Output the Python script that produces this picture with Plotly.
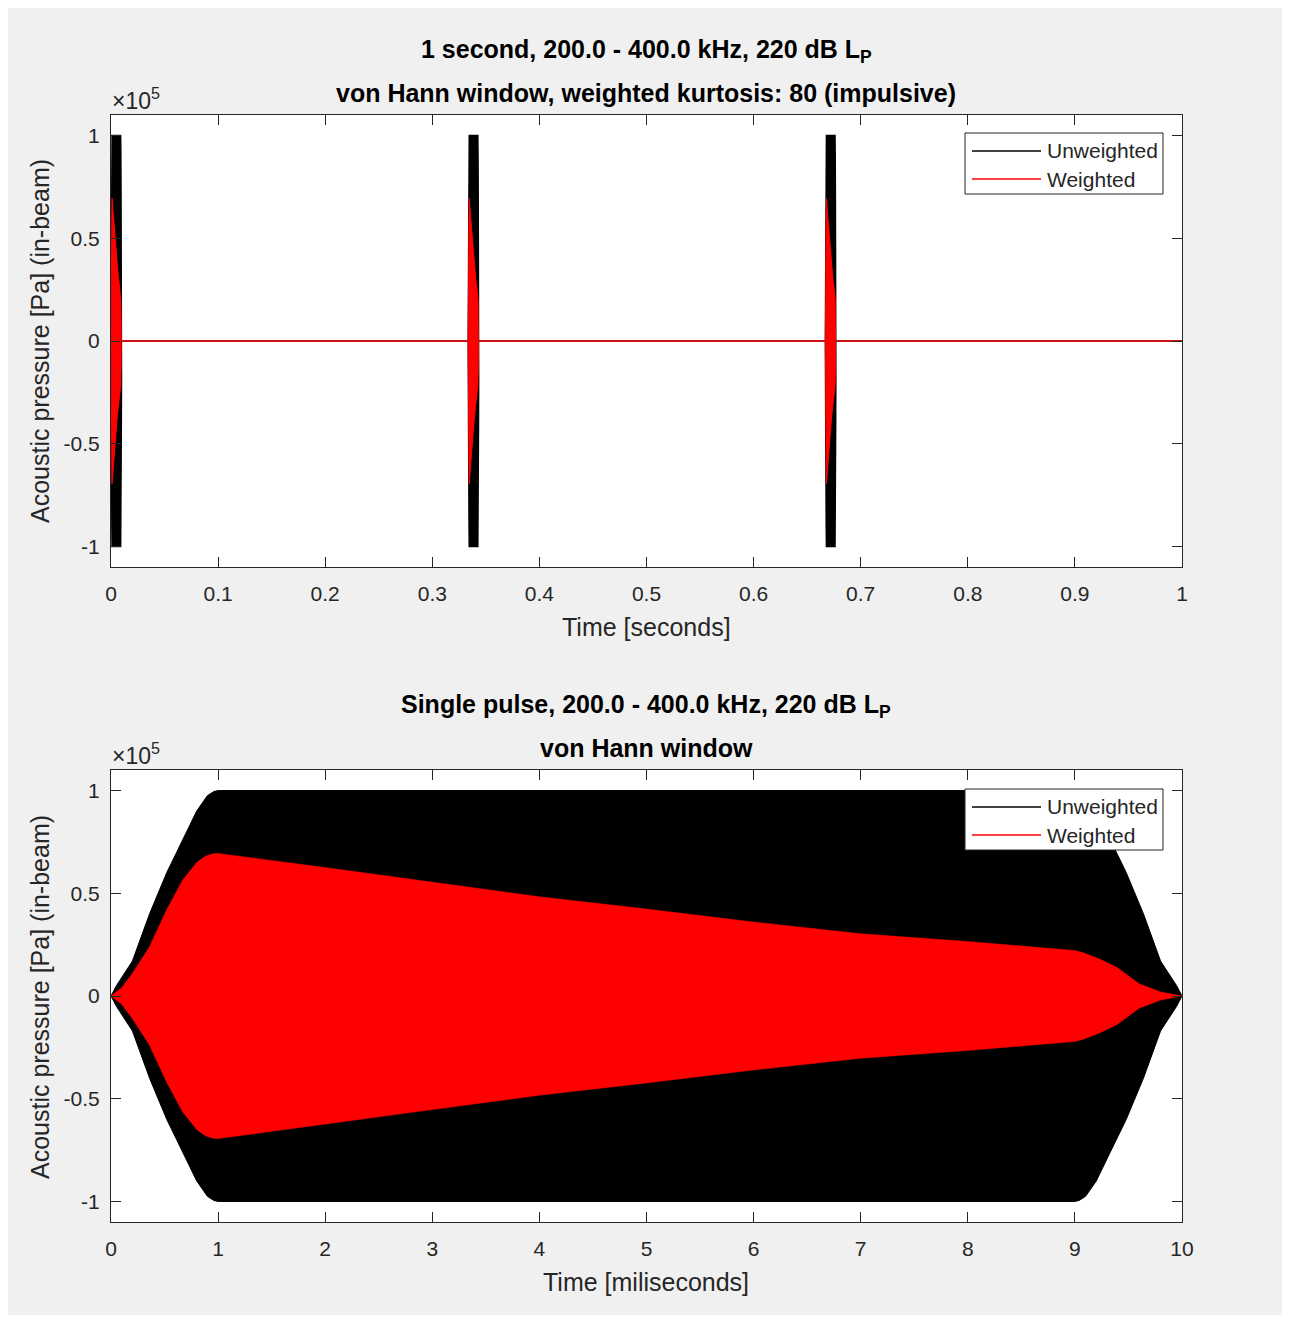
import plotly.graph_objects as go

# ---------------- data ----------------
# Envelope of a single pulse (time in milliseconds, pressure in Pa)
unw_t_ms = [0, 0.05, 0.2, 0.36, 0.52, 0.67, 0.8, 0.9, 0.96, 1.0, 9.0, 9.04, 9.1, 9.2, 9.33, 9.48,
            9.64, 9.8, 9.95, 10]
unw_env = [0, 5000, 17000, 40000, 60000, 76000, 90000, 97500, 99500, 100000, 100000, 99500, 97500,
           90000, 76000, 60000, 40000, 17000, 5000, 0]

w_t_ms = [0, 0.1, 0.2, 0.36, 0.52, 0.67, 0.8, 0.88, 0.95, 1.0, 2, 3, 4, 5, 6, 7, 8, 9, 9.08, 9.23,
          9.39, 9.6, 9.8, 10]
w_env = [0, 4000, 11000, 24000, 42000, 56500, 65000, 68000, 69200, 69400, 62500, 55300, 48300,
         42300, 36000, 30300, 26500, 22100, 21000, 18000, 14000, 6000, 2000, 0]

# Pulse start times within the 1 second record (seconds)
pulse_starts_s = [0.0, 0.3335, 0.667]
record_t_s = [0.0, 1.0]
record_zero = [0.0, 0.0]

ytick_vals = [-100000, -50000, 0, 50000, 100000]
ytick_text = ["-1", "-0.5", "0", "0.5", "1"]
xtick_top = [0, 0.1, 0.2, 0.3, 0.4, 0.5, 0.6, 0.7, 0.8, 0.9, 1]
xtick_top_text = ["0", "0.1", "0.2", "0.3", "0.4", "0.5", "0.6", "0.7", "0.8", "0.9", "1"]
xtick_bot = [0, 1, 2, 3, 4, 5, 6, 7, 8, 9, 10]

legend_names = ["Unweighted", "Weighted"]
legend_colors = ["black", "red"]

title_top_1 = "1 second, 200.0 - 400.0 kHz, 220 dB L<sub>P</sub>"
title_top_2 = "von Hann window, weighted kurtosis: 80 (impulsive)"
title_bot_1 = "Single pulse, 200.0 - 400.0 kHz, 220 dB L<sub>P</sub>"
title_bot_2 = "von Hann window"
ylabel = "Acoustic pressure [Pa] (in-beam)"
xlabel_top = "Time [seconds]"
xlabel_bot = "Time [miliseconds]"

# ---------------- helpers ----------------
def polygon(t, env, scale=1.0, offset=0.0):
    xs = [offset + v * scale for v in t]
    xs = xs + xs[::-1]
    ys = list(env) + [-v for v in env[::-1]]
    return xs, ys

FONT = "Liberation Sans, Arial, Helvetica, sans-serif"
AX = "#262626"

fig = go.Figure()

# ---- top panel: 1 second record ----
fig.add_trace(go.Scatter(x=record_t_s, y=record_zero, mode="lines",
                         line=dict(color="black", width=1.5), showlegend=False,
                         xaxis="x", yaxis="y", hoverinfo="skip"))
for s in pulse_starts_s:
    xs, ys = polygon(unw_t_ms, unw_env, 0.001, s)
    fig.add_trace(go.Scatter(x=xs, y=ys, fill="toself", fillcolor="black", mode="lines",
                             line=dict(color="black", width=1.5), showlegend=False,
                             xaxis="x", yaxis="y", hoverinfo="skip"))
fig.add_trace(go.Scatter(x=record_t_s, y=record_zero, mode="lines",
                         line=dict(color="red", width=1.5), showlegend=False,
                         xaxis="x", yaxis="y", hoverinfo="skip"))
for s in pulse_starts_s:
    xs, ys = polygon(w_t_ms, w_env, 0.001, s)
    fig.add_trace(go.Scatter(x=xs, y=ys, fill="toself", fillcolor="red", mode="lines",
                             line=dict(color="red", width=1), showlegend=False,
                             xaxis="x", yaxis="y", hoverinfo="skip"))

# ---- bottom panel: single pulse ----
xs, ys = polygon(unw_t_ms, unw_env)
fig.add_trace(go.Scatter(x=xs, y=ys, fill="toself", fillcolor="black", mode="lines",
                         line=dict(color="black", width=1), showlegend=False,
                         xaxis="x2", yaxis="y2", hoverinfo="skip"))
xs, ys = polygon(w_t_ms, w_env)
fig.add_trace(go.Scatter(x=xs, y=ys, fill="toself", fillcolor="red", mode="lines",
                         line=dict(color="red", width=0.5), showlegend=False,
                         xaxis="x2", yaxis="y2", hoverinfo="skip"))

# ---------------- layout ----------------
# reference pixel geometry (page coordinates); page body has 8px margin
OFF = 8
FIG_W, FIG_H = 1290 - 2 * OFF, 1323 - 2 * OFF
L, R = 111, 1182
TOP, BOT = 115, 1222
W, H = R - L, BOT - TOP

def px(pix):
    return (pix - L) / W

def py(pix):
    return (BOT - pix) / H

axis_common = dict(showline=True, linecolor=AX, linewidth=1, mirror="ticks", ticks="inside",
                   ticklen=10, tickcolor=AX, tickwidth=1, showgrid=False, zeroline=False,
                   tickfont=dict(family=FONT, size=21, color=AX))

fig.update_layout(
    width=FIG_W, height=FIG_H,
    paper_bgcolor="#f0f0f0", plot_bgcolor="white",
    margin=dict(l=L - OFF, r=FIG_W - (R - OFF), t=TOP - OFF, b=FIG_H - (BOT - OFF),
                autoexpand=False),
    font=dict(family=FONT, color=AX),
    showlegend=False,
    xaxis=dict(domain=[0, 1], anchor="y", range=[0, 1], tickvals=xtick_top,
               ticktext=xtick_top_text, ticklabelstandoff=8, **axis_common),
    yaxis=dict(domain=[py(567), 1.0], anchor="x", range=[-110000, 110000],
               tickvals=ytick_vals, ticktext=ytick_text, ticklabelstandoff=6, **axis_common),
    xaxis2=dict(domain=[0, 1], anchor="y2", range=[0, 10], tickvals=xtick_bot,
                ticklabelstandoff=8, **axis_common),
    yaxis2=dict(domain=[0, py(770)], anchor="x2", range=[-110000, 110000],
                tickvals=ytick_vals, ticktext=ytick_text, ticklabelstandoff=6, **axis_common),
)

ann = []
shapes = []

def title(text, ypix):
    ann.append(dict(text="<b>" + text + "</b>", x=px(646), y=py(ypix), xref="paper", yref="paper",
                    xanchor="center", yanchor="middle", showarrow=False,
                    font=dict(family=FONT, size=25, color="black")))

title(title_top_1, 51)
title(title_top_2, 93)
title(title_bot_1, 706)
title(title_bot_2, 748)

for ypix in (99, 754):
    ann.append(dict(text="\u00d710<sup>5</sup>", x=px(110), y=py(ypix), xref="paper", yref="paper",
                    xanchor="left", yanchor="middle", showarrow=False,
                    font=dict(family=FONT, size=23, color=AX)))
for ypix in (341, 997):
    ann.append(dict(text=ylabel, x=px(40), y=py(ypix), xref="paper", yref="paper",
                    xanchor="center", yanchor="middle", textangle=-90, showarrow=False,
                    font=dict(family=FONT, size=25, color=AX)))
ann.append(dict(text=xlabel_top, x=px(646), y=py(627), xref="paper", yref="paper",
                xanchor="center", yanchor="middle", showarrow=False,
                font=dict(family=FONT, size=25, color=AX)))
ann.append(dict(text=xlabel_bot, x=px(646), y=py(1282), xref="paper", yref="paper",
                xanchor="center", yanchor="middle", showarrow=False,
                font=dict(family=FONT, size=25, color=AX)))

# ---- legends (MATLAB style: long line samples) ----
def legend_box(top_pix):
    shapes.append(dict(type="rect", xref="paper", yref="paper",
                       x0=px(965), x1=px(1163), y0=py(top_pix), y1=py(top_pix + 61),
                       fillcolor="white", line=dict(color=AX, width=1), layer="above"))
    for i, (name, col) in enumerate(zip(legend_names, legend_colors)):
        yc = top_pix + 18 + 28 * i
        shapes.append(dict(type="line", xref="paper", yref="paper",
                           x0=px(972), x1=px(1041), y0=py(yc), y1=py(yc),
                           line=dict(color=col, width=1.3), layer="above"))
        ann.append(dict(text=name, x=px(1045), y=py(yc), xref="paper", yref="paper",
                        xanchor="left", yanchor="middle", showarrow=False,
                        font=dict(family=FONT, size=21, color=AX)))

legend_box(133)
legend_box(789)

fig.update_layout(annotations=ann, shapes=shapes)

fig.write_html("out.html")
